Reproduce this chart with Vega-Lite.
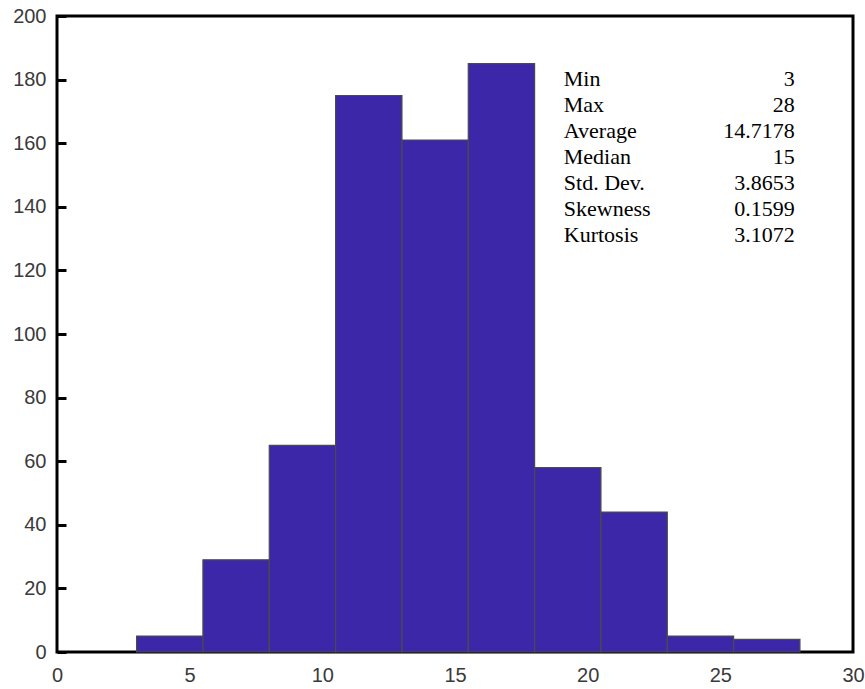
{
  "$schema": "https://vega.github.io/schema/vega-lite/v6.json",
  "width": 796,
  "height": 636,
  "autosize": {"type": "none"},
  "padding": {"left": 57, "top": 16, "right": 12, "bottom": 37},
  "background": "white",
  "config": {
    "view": {"stroke": "black", "strokeWidth": 3},
    "axis": {
      "grid": false,
      "domain": false,
      "labelFont": "Liberation Sans",
      "labelFontSize": 20,
      "labelColor": "#3a3a3a",
      "labelFlush": false,
      "title": null
    }
  },
  "datasets": {
    "bins": [
      {"bin_start": 3.0, "bin_end": 5.5, "count": 5},
      {"bin_start": 5.5, "bin_end": 8.0, "count": 29},
      {"bin_start": 8.0, "bin_end": 10.5, "count": 65},
      {"bin_start": 10.5, "bin_end": 13.0, "count": 175},
      {"bin_start": 13.0, "bin_end": 15.5, "count": 161},
      {"bin_start": 15.5, "bin_end": 18.0, "count": 185},
      {"bin_start": 18.0, "bin_end": 20.5, "count": 58},
      {"bin_start": 20.5, "bin_end": 23.0, "count": 44},
      {"bin_start": 23.0, "bin_end": 25.5, "count": 5},
      {"bin_start": 25.5, "bin_end": 28.0, "count": 4}
    ],
    "stats": [
      {"stat": "Min", "value": "3"},
      {"stat": "Max", "value": "28"},
      {"stat": "Average", "value": "14.7178"},
      {"stat": "Median", "value": "15"},
      {"stat": "Std. Dev.", "value": "3.8653"},
      {"stat": "Skewness", "value": "0.1599"},
      {"stat": "Kurtosis", "value": "3.1072"}
    ]
  },
  "layer": [
    {
      "data": {"name": "bins"},
      "mark": {"type": "rect", "color": "#3c27a8", "stroke": "#4a4a4a", "strokeWidth": 1.2},
      "encoding": {
        "x": {"field": "bin_start", "type": "quantitative",
              "scale": {"domain": [0, 30], "nice": false},
              "axis": {"values": [0, 5, 10, 15, 20, 25, 30], "ticks": false, "labelPadding": 13}},
        "x2": {"field": "bin_end"},
        "y": {"field": "count", "type": "quantitative",
              "scale": {"domain": [0, 200], "nice": false},
              "axis": {"values": [0, 20, 40, 60, 80, 100, 120, 140, 160, 180, 200],
                       "offset": -9, "tickSize": 9, "tickWidth": 3, "tickColor": "black", "labelPadding": 11}},
        "y2": {"datum": 0}
      }
    },
    {
      "data": {"name": "stats"},
      "transform": [{"window": [{"op": "row_number", "as": "row"}]}],
      "layer": [
        {
          "mark": {"type": "text", "align": "left", "baseline": "middle", "font": "Liberation Serif", "fontSize": 22, "color": "black"},
          "encoding": {
            "x": {"datum": 19.1, "type": "quantitative"},
            "y": {"field": "row", "type": "quantitative",
                  "scale": {"domain": [-1.423, 23.04], "reverse": true, "nice": false, "zero": false},
                  "axis": null},
            "text": {"field": "stat"}
          }
        },
        {
          "mark": {"type": "text", "align": "right", "baseline": "middle", "font": "Liberation Serif", "fontSize": 22, "color": "black"},
          "encoding": {
            "x": {"datum": 27.8, "type": "quantitative"},
            "y": {"field": "row", "type": "quantitative",
                  "scale": {"domain": [-1.423, 23.04], "reverse": true, "nice": false, "zero": false},
                  "axis": null},
            "text": {"field": "value"}
          }
        }
      ]
    }
  ],
  "resolve": {"scale": {"y": "independent"}}
}
